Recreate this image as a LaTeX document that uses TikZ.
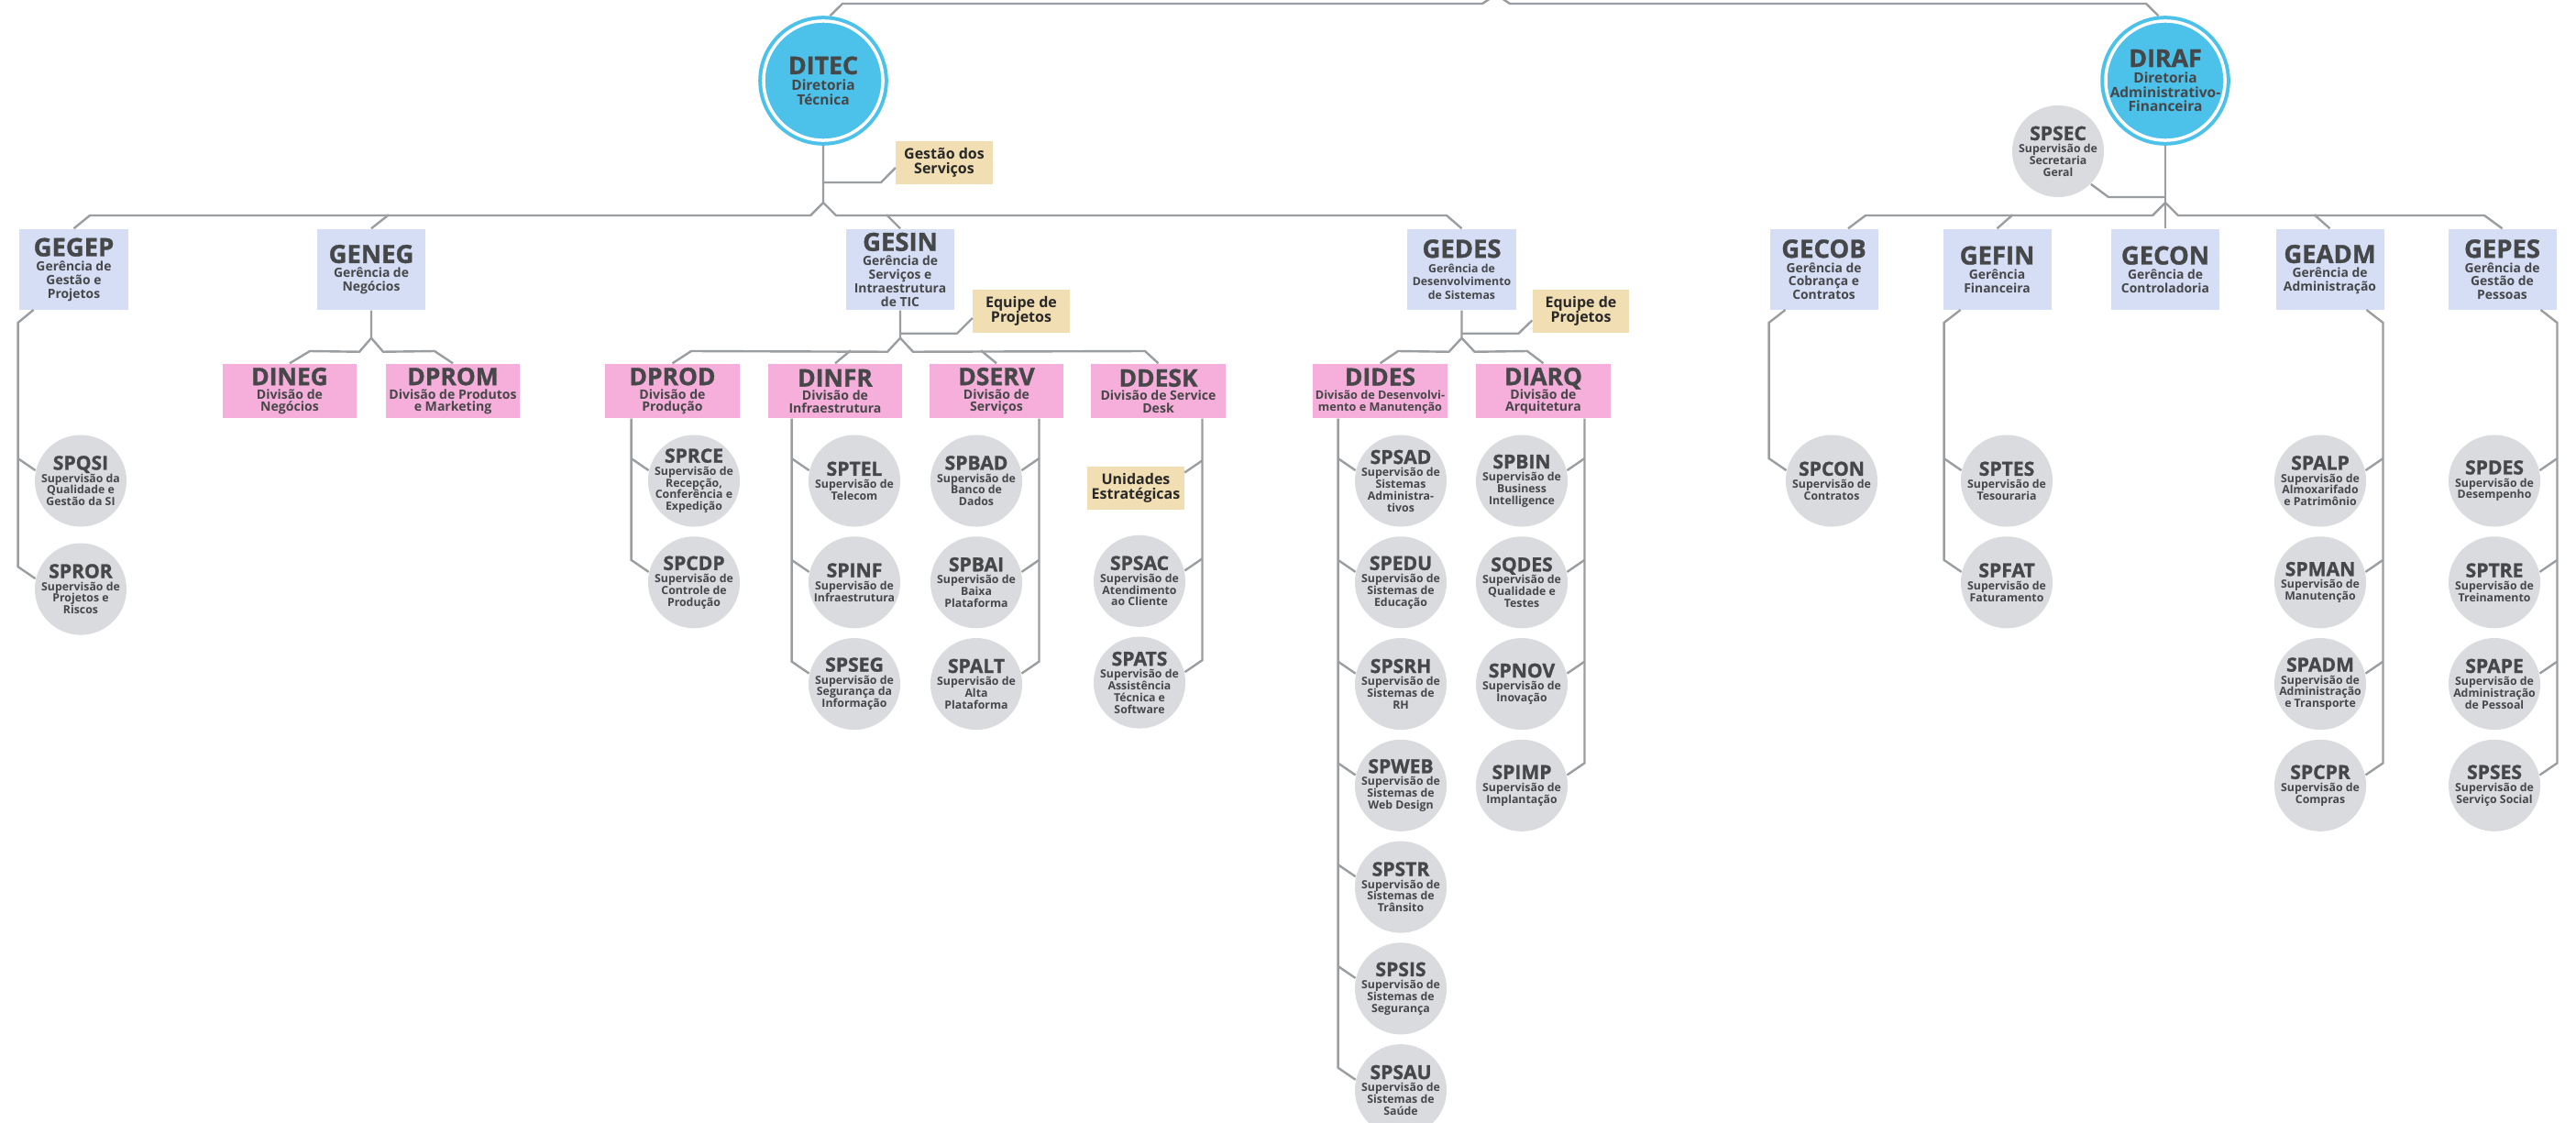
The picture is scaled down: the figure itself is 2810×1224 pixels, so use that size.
\documentclass[tikz,border=0pt]{standalone}
\usepackage{fontspec}
\setmainfont{Open Sans}
\newfontfamily\heavy{Open Sans}[FakeBold=1.2]
\usetikzlibrary{positioning}
\definecolor{dirblue}{RGB}{76,193,234}
\definecolor{gerblue}{RGB}{213,222,245}
\definecolor{divpink}{RGB}{246,174,218}
\definecolor{supgray}{RGB}{217,219,222}
\definecolor{notetan}{RGB}{241,222,178}
\definecolor{linegray}{RGB}{155,158,161}
\definecolor{ink}{RGB}{70,71,73}
\definecolor{noteink}{RGB}{40,40,40}
\lineskiplimit=-20pt
\newcommand{\sigla}[2]{{\heavy\bfseries\fontsize{#1}{#1}\selectfont #2}}

\begin{document}
\begin{tikzpicture}[x=0.01cm, y=-0.01cm,
    conn/.style={draw=linegray, line width=0.024cm},
    dirnode/.style={circle, fill=dirblue, draw=dirblue, line width=0.04cm,
                    double=white, double distance=0.035cm, minimum size=1.3cm,
                    inner sep=-0.15cm, outer sep=0.06cm, align=center, text=ink,
                    font=\fontsize{4.4}{4.45}\selectfont\bfseries},
    gerbox/.style={fill=gerblue, minimum width=1.18cm, minimum height=0.88cm,
                   inner sep=0pt, align=center, text=ink,
                   font=\fontsize{3.95}{4.2}\selectfont\bfseries},
    divbox/.style={fill=divpink, minimum width=1.46cm, minimum height=0.59cm,
                   inner sep=0pt, align=center, text=ink,
                   font=\fontsize{4}{3.8}\selectfont\bfseries},
    supcirc/.style={circle, fill=supgray, minimum size=1cm, inner sep=-0.15cm,
                    align=center, text=ink,
                    font=\fontsize{3.5}{3.65}\selectfont\bfseries},
    notebox/.style={fill=notetan, minimum width=1.05cm, minimum height=0.47cm,
                    inner sep=0pt, align=center, text=noteink,
                    font=\fontsize{4.55}{4.5}\selectfont\bfseries}
  ]
  \useasboundingbox (0,0) rectangle (2810,1224);
  \fill[white] (0,0) rectangle (2810,1224);
  \clip (0,0) rectangle (2810,1224);

  \node[dirnode] (ditec) at (898,88) {\sigla{7.6}{DITEC}\\[0.55pt]Diretoria\\Técnica};
  \node[dirnode] (diraf) at (2362,88) {\sigla{7.6}{DIRAF}\\[0.55pt]Diretoria\\Administrativo-\\Financeira};
  \node[notebox] (gestao) at (1030,177.5) {Gestão dos\\Serviços};
  \node[supcirc] (spsec) at (2245,165) {\sigla{6}{SPSEC}\\[0.2pt]Supervisão de\\Secretaria\\Geral};

  \node[gerbox] (gegep) at (80.5,294) {\sigla{7.8}{GEGEP}\\[0.35pt]Gerência de\\Gestão e\\Projetos};
  \node[gerbox] (geneg) at (405,294) {\sigla{7.8}{GENEG}\\[0.35pt]Gerência de\\Negócios};
  \node[gerbox] (gesin) at (982,294) {\sigla{7.8}{GESIN}\\[0.35pt]Gerência de\\Serviços e\\Intraestrutura\\de TIC};
  \node[gerbox, font=\fontsize{3.5}{4.2}\selectfont\bfseries] (gedes) at (1594.5,294) {\sigla{7.8}{GEDES}\\[0.35pt]Gerência de\\Desenvolvimento\\de Sistemas};
  \node[gerbox] (gecob) at (1989.5,294) {\sigla{7.8}{GECOB}\\[0.35pt]Gerência de\\Cobrança e\\Contratos};
  \node[gerbox] (gefin) at (2178.5,294) {\sigla{7.8}{GEFIN}\\[0.35pt]Gerência\\Financeira};
  \node[gerbox] (gecon) at (2362,294) {\sigla{7.8}{GECON}\\[0.35pt]Gerência de\\Controladoria};
  \node[gerbox] (geadm) at (2541.5,294) {\sigla{7.8}{GEADM}\\[0.35pt]Gerência de\\Administração};
  \node[gerbox] (gepes) at (2729.5,294) {\sigla{7.8}{GEPES}\\[0.35pt]Gerência de\\Gestão de\\Pessoas};

  \node[notebox] (equipe1) at (1114,339.5) {Equipe de\\Projetos};
  \node[notebox] (equipe2) at (1724.5,339.5) {Equipe de\\Projetos};

  \node[divbox] (dineg) at (316,426.5) {\sigla{7.5}{DINEG}\\[0.5pt]Divisão de\\Negócios};
  \node[divbox] (dprom) at (494,426.5) {\sigla{7.5}{DPROM}\\[0.5pt]Divisão de Produtos\\e Marketing};
  \node[divbox] (dprod) at (733.5,426.5) {\sigla{7.5}{DPROD}\\[0.5pt]Divisão de\\Produção};
  \node[divbox] (dinfr) at (911,426.5) {\sigla{7.5}{DINFR}\\[0.5pt]Divisão de\\Infraestrutura};
  \node[divbox] (dserv) at (1087,426.5) {\sigla{7.5}{DSERV}\\[0.5pt]Divisão de\\Serviços};
  \node[divbox] (ddesk) at (1263.5,426.5) {\sigla{7.5}{DDESK}\\[0.5pt]Divisão de Service\\Desk};
  \node[divbox, font=\fontsize{3.6}{3.6}\selectfont\bfseries] (dides) at (1505.5,426.5) {\sigla{7.5}{DIDES}\\[0.75pt]Divisão de Desenvolvi-\\mento e Manutenção};
  \node[divbox] (diarq) at (1683.5,426.5) {\sigla{7.5}{DIARQ}\\[0.5pt]Divisão de\\Arquitetura};
  \node[notebox] (unid) at (1239,532.5) {Unidades\\Estratégicas};

  \node[supcirc] (spqsi) at (88,524.5) {\sigla{6}{SPQSI}\\[0.2pt]Supervisão da\\Qualidade e\\Gestão da SI};
  \node[supcirc, below=0.166cm of spqsi] (spror) {\sigla{6}{SPROR}\\[0.2pt]Supervisão de\\Projetos e\\Riscos};

  \node[supcirc] (sprce) at (757,524.5) {\sigla{6}{SPRCE}\\[0.2pt]Supervisão de\\Recepção,\\Conferência e\\Expedição};
  \node[supcirc, below=0.093cm of sprce] (spcdp) {\sigla{6}{SPCDP}\\[0.2pt]Supervisão de\\Controle de\\Produção};

  \node[supcirc] (sptel) at (932,524.5) {\sigla{6}{SPTEL}\\[0.2pt]Supervisão de\\Telecom};
  \node[supcirc, below=0.093cm of sptel] (spinf) {\sigla{6}{SPINF}\\[0.2pt]Supervisão de\\Infraestrutura};
  \node[supcirc, below=0.093cm of spinf] (spseg) {\sigla{6}{SPSEG}\\[0.2pt]Supervisão de\\Segurança da\\Informação};

  \node[supcirc] (spbad) at (1065,524.5) {\sigla{6}{SPBAD}\\[0.2pt]Supervisão de\\Banco de\\Dados};
  \node[supcirc, below=0.093cm of spbad] (spbai) {\sigla{6}{SPBAI}\\[0.2pt]Supervisão de\\Baixa\\Plataforma};
  \node[supcirc, below=0.093cm of spbai] (spalt) {\sigla{6}{SPALT}\\[0.2pt]Supervisão de\\Alta\\Plataforma};

  \node[supcirc] (spsac) at (1243,633.8) {\sigla{6}{SPSAC}\\[0.2pt]Supervisão de\\Atendimento\\ao Cliente};
  \node[supcirc, below=0.093cm of spsac] (spats) {\sigla{6}{SPATS}\\[0.2pt]Supervisão de\\Assistência\\Técnica e\\Software};

  \node[supcirc] (spsad) at (1528,524.5) {\sigla{6}{SPSAD}\\[0.2pt]Supervisão de\\Sistemas\\Administra-\\tivos};
  \node[supcirc, below=0.093cm of spsad] (spedu) {\sigla{6}{SPEDU}\\[0.2pt]Supervisão de\\Sistemas de\\Educação};
  \node[supcirc, below=0.093cm of spedu] (spsrh) {\sigla{6}{SPSRH}\\[0.2pt]Supervisão de\\Sistemas de\\RH};
  \node[supcirc, below=0.093cm of spsrh] (spweb) {\sigla{6}{SPWEB}\\[0.2pt]Supervisão de\\Sistemas de\\Web Design};
  \node[supcirc, below=0.093cm of spweb] (spstr) {\sigla{6}{SPSTR}\\[0.2pt]Supervisão de\\Sistemas de\\Trânsito};
  \node[supcirc, below=0.093cm of spstr] (spsis) {\sigla{6}{SPSIS}\\[0.2pt]Supervisão de\\Sistemas de\\Segurança};
  \node[supcirc, below=0.093cm of spsis] (spsau) {\sigla{6}{SPSAU}\\[0.2pt]Supervisão de\\Sistemas de\\Saúde};

  \node[supcirc] (spbin) at (1660,524.5) {\sigla{6}{SPBIN}\\[0.2pt]Supervisão de\\Business\\Intelligence};
  \node[supcirc, below=0.093cm of spbin] (sqdes) {\sigla{6}{SQDES}\\[0.2pt]Supervisão de\\Qualidade e\\Testes};
  \node[supcirc, below=0.093cm of sqdes] (spnov) {\sigla{6}{SPNOV}\\[0.2pt]Supervisão de\\Inovação};
  \node[supcirc, below=0.093cm of spnov] (spimp) {\sigla{6}{SPIMP}\\[0.2pt]Supervisão de\\Implantação};

  \node[supcirc] (spcon) at (1998,524.5) {\sigla{6}{SPCON}\\[0.2pt]Supervisão de\\Contratos};

  \node[supcirc] (sptes) at (2189,524.5) {\sigla{6}{SPTES}\\[0.2pt]Supervisão de\\Tesouraria};
  \node[supcirc, below=0.093cm of sptes] (spfat) {\sigla{6}{SPFAT}\\[0.2pt]Supervisão de\\Faturamento};

  \node[supcirc] (spalp) at (2531,524.5) {\sigla{6}{SPALP}\\[0.2pt]Supervisão de\\Almoxarifado\\e Patrimônio};
  \node[supcirc, below=0.093cm of spalp] (spman) {\sigla{6}{SPMAN}\\[0.2pt]Supervisão de\\Manutenção};
  \node[supcirc, below=0.093cm of spman] (spadm) {\sigla{6}{SPADM}\\[0.2pt]Supervisão de\\Administração\\e Transporte};
  \node[supcirc, below=0.093cm of spadm] (spcpr) {\sigla{6}{SPCPR}\\[0.2pt]Supervisão de\\Compras};

  \node[supcirc] (spdes) at (2721,524.5) {\sigla{6}{SPDES}\\[0.2pt]Supervisão de\\Desempenho};
  \node[supcirc, below=0.093cm of spdes] (sptre) {\sigla{6}{SPTRE}\\[0.2pt]Supervisão de\\Treinamento};
  \node[supcirc, below=0.093cm of sptre] (spape) {\sigla{6}{SPAPE}\\[0.2pt]Supervisão de\\Administração\\de Pessoal};
  \node[supcirc, below=0.093cm of spape] (spses) {\sigla{6}{SPSES}\\[0.2pt]Supervisão de\\Serviço Social};

  \coordinate (top) at (1632,-6);
  \coordinate (lvl) at (0,352);
  \draw[conn] (ditec.84) -- (919,4) -- (1617,4) -- (top);
  \draw[conn] (diraf.96) -- (2341,4) -- (1647,4) -- (top);

  \draw[conn] (ditec.south) -- ++(0,62) coordinate (jtec) -- ++(-14,14) -- (98,235) -- (gegep.north);
  \draw[conn] (jtec) -- ++(14,14) -- (1578,235) -- (gedes.north);
  \draw[conn] (geneg.north) -- ++(19,-15);
  \draw[conn] (gesin.north) -- ++(-15,-15);
  \draw[conn] (ditec.south) ++(0,40) -- ++(63,0) -- ([yshift=-0.055cm]gestao.west);

  \draw[conn] (diraf.south) -- (gecon.north);
  \draw[conn] (diraf.south) ++(0,62) coordinate (jraf) -- ++(-14,14) -- (2035,235) -- ([xshift=0.265cm]gecob.north);
  \draw[conn] (jraf) -- ++(14,14) -- (2710,235) -- (gepes.north);
  \draw[conn] (gefin.north) -- ++(17,-15);
  \draw[conn] (geadm.north) -- ++(-17,-15);
  \draw[conn] (diraf.south) ++(0,56) -- ++(-62,0) -- (spsec.-45);

  \draw[conn] (geneg.south) -- ++(0,30) coordinate (jneg) -- ++(-13,15) -- (338,383) -- (dineg.north);
  \draw[conn] (jneg) -- ++(13,15) -- (474,383) -- (dprom.north);

  \draw[conn] (gesin.south) -- ++(0,30) coordinate (jsin) -- ++(-14,15) -- (754,383) -- (dprod.north);
  \draw[conn] (jsin) -- ++(14,15) -- (1249,383) -- (ddesk.north);
  \draw[conn] (dinfr.north) -- ++(17,-14);
  \draw[conn] (dserv.north) -- ++(-17,-14);
  \draw[conn] (gesin.south) ++(0,25) -- ++(62,0) -- ([yshift=-0.075cm]equipe1.west);

  \draw[conn] (gedes.south) -- ++(0,30) coordinate (jdes) -- ++(-14,15) -- (1525,383) -- (dides.north);
  \draw[conn] (jdes) -- ++(14,15) -- (1666,383) -- (diarq.north);
  \draw[conn] (gedes.south) ++(0,25) -- ++(62,0) -- ([yshift=-0.1cm]equipe2.west);

  \foreach \c in {spqsi,sprce,sptel,spinf,spsad,spedu,spsrh,spweb,spstr,spsis,sptes}
    \draw[conn] (\c.167) -- ++(-19,-13);
  \foreach \c in {spbad,spbai,spsac,spbin,sqdes,spnov,spalp,spman,spadm,spdes,sptre,spape}
    \draw[conn] (\c.13) -- ++(19,-13);
  \draw[conn] ([yshift=0.17cm]unid.east) -- ++(19,-13);

  \draw[conn] (spror.167) -- ++(-19,-13) coordinate (k) -- (k |- lvl) -- ++(17,-14);
  \draw[conn] (spcon.167) -- ++(-19,-13) coordinate (k) -- (k |- lvl) -- ++(18,-14);
  \draw[conn] (spfat.167) -- ++(-19,-13) coordinate (k) -- (k |- lvl) -- ++(18,-14);
  \draw[conn] (spcpr.13) -- ++(19,-13) coordinate (k) -- (k |- lvl) -- ++(-18,-14);
  \draw[conn] (spses.13) -- ++(19,-13) coordinate (k) -- (k |- lvl) -- ++(-18,-14);
  \draw[conn] (spcdp.167) -- ++(-19,-13) coordinate (k) -- (k |- dprod.south);
  \draw[conn] (spseg.167) -- ++(-19,-13) coordinate (k) -- (k |- dinfr.south);
  \draw[conn] (spsau.167) -- ++(-19,-13) coordinate (k) -- (k |- dides.south);
  \draw[conn] (spalt.13) -- ++(19,-13) coordinate (k) -- (k |- dserv.south);
  \draw[conn] (spats.13) -- ++(19,-13) coordinate (k) -- (k |- ddesk.south);
  \draw[conn] (spimp.13) -- ++(19,-13) coordinate (k) -- (k |- diarq.south);
\end{tikzpicture}
\end{document}
